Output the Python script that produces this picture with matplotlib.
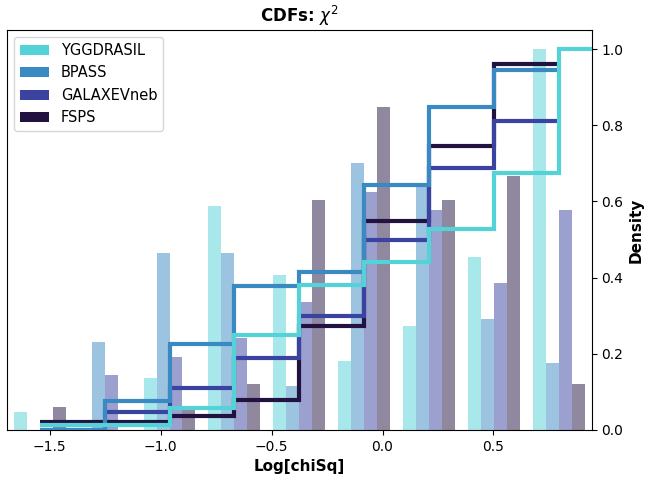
import numpy as np
import matplotlib
matplotlib.use("Agg")
import matplotlib.pyplot as plt
from matplotlib.patches import Patch

# ---- data ----
labels = ["YGGDRASIL", "BPASS", "GALAXEVneb", "FSPS"]
colors = ["#53d3d8", "#3a89c2", "#3a43a0", "#21123f"]

bin_lo = -1.692
bin_hi = 0.943
n_bins = 9

# density histogram heights per bin
dens_ygg = [0.046, 0.0, 0.136, 0.589, 0.407, 0.181, 0.273, 0.453, 1.0]
dens_bpass = [0.0, 0.232, 0.465, 0.465, 0.115, 0.700, 0.637, 0.291, 0.175]
dens_galax = [0.0, 0.144, 0.192, 0.241, 0.337, 0.626, 0.577, 0.387, 0.577]
dens_fsps = [0.061, 0.0, 0.052, 0.121, 0.605, 0.847, 0.605, 0.667, 0.121]

# CDF step levels
cdf_ygg = [0.014, 0.014, 0.059, 0.249, 0.381, 0.440, 0.528, 0.675, 1.0]
cdf_bpass = [0.0, 0.075, 0.226, 0.377, 0.414, 0.643, 0.849, 0.944]
cdf_galax = [0.0, 0.047, 0.109, 0.188, 0.298, 0.500, 0.688, 0.812]
cdf_fsps = [0.021, 0.021, 0.038, 0.078, 0.274, 0.548, 0.745, 0.961]

dens = [dens_ygg, dens_bpass, dens_galax, dens_fsps]
cdfs = [cdf_ygg, cdf_bpass, cdf_galax, cdf_fsps]

# ---- figure ----
fig = plt.figure(figsize=(6.46, 4.79), dpi=100)
ax = fig.add_axes([0.011, 0.1023, 0.905, 0.835])

edges = np.linspace(bin_lo, bin_hi, n_bins + 1)
w = edges[1] - edges[0]
centers = edges[:-1] + w / 2
bw = 0.8 * w / 4

for k, (d, c) in enumerate(zip(dens, colors)):
    left = edges[:-1] + 0.1 * w + k * bw
    ax.bar(left, d, width=bw, align="edge", color=c, alpha=0.5, linewidth=0, zorder=1)

# step CDFs, drawn FSPS first so YGGDRASIL ends on top
for k in [3, 2, 1, 0]:
    vals = np.array(cdfs[k])
    if len(vals) == n_bins:
        st_edges = np.append(centers, bin_hi + 0.2)
    else:
        st_edges = centers[: len(vals) + 1]
    ax.stairs(vals, st_edges, baseline=None, color=colors[k], linewidth=3, zorder=3 + (3 - k))

ax.set_xlim(bin_lo, bin_hi)
ax.set_ylim(0, 1.05)
ax.set_xticks([-1.5, -1.0, -0.5, 0.0, 0.5])
ax.yaxis.tick_right()
ax.yaxis.set_label_position("right")
ax.set_yticks([0.0, 0.2, 0.4, 0.6, 0.8, 1.0])
ax.tick_params(labelsize=10)
ax.set_xlabel("Log[chiSq]", fontweight="bold", fontsize=11)
ax.set_ylabel("Density", fontweight="bold", fontsize=11)
ax.set_title(r"CDFs: $\chi^2$", fontweight="bold", fontsize=12)

handles = [Patch(facecolor=c, edgecolor="none", label=l) for c, l in zip(colors, labels)]
ax.legend(handles=handles, loc="upper left", fontsize=10.5)

fig.savefig("out.png", dpi=100)
